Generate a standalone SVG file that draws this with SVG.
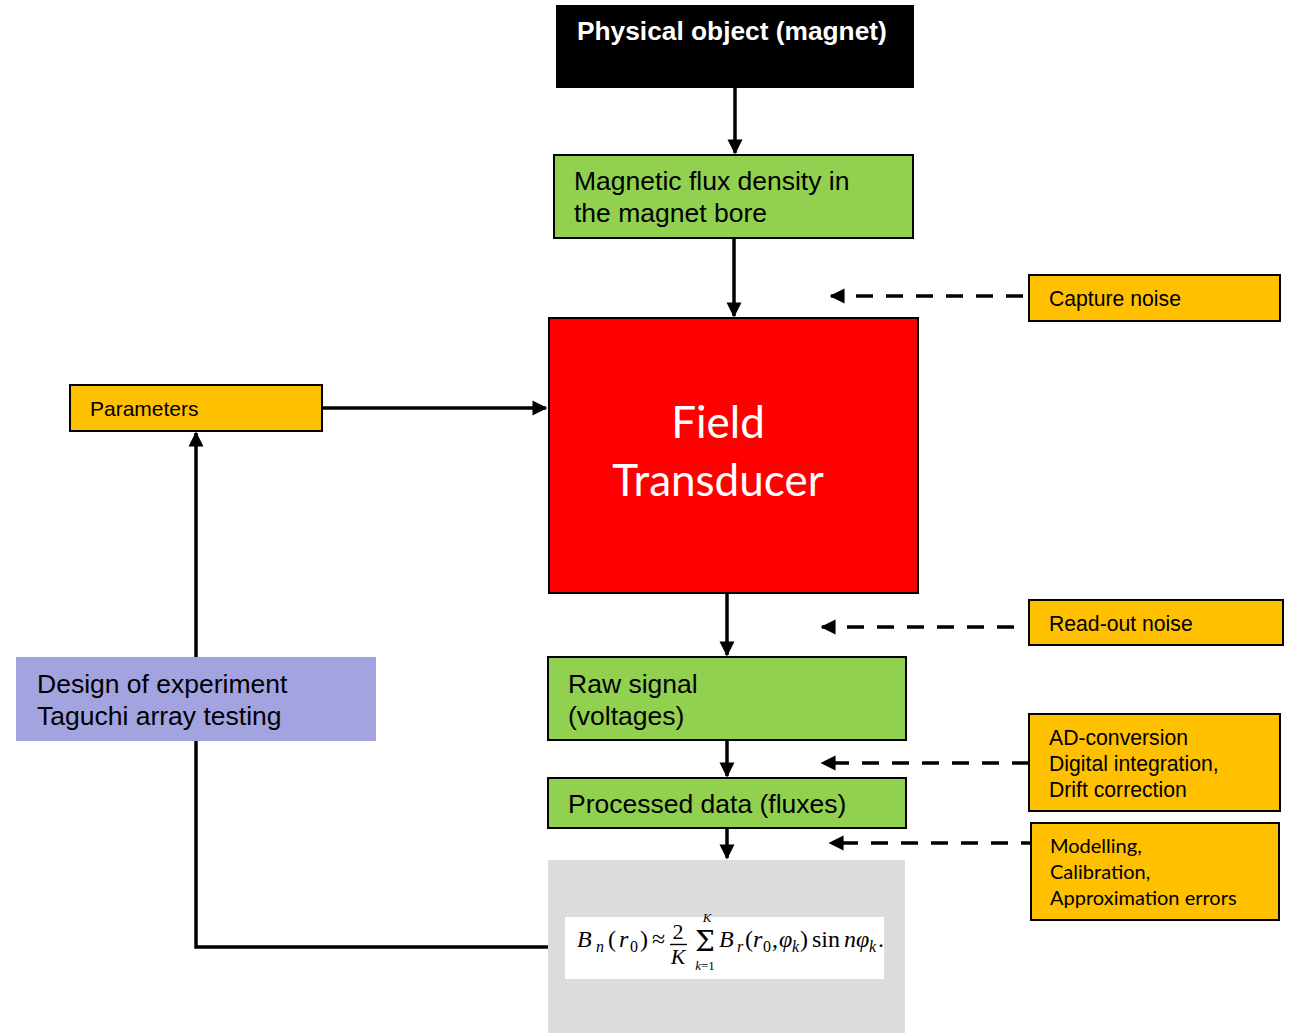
<svg xmlns="http://www.w3.org/2000/svg" width="1294" height="1033" viewBox="0 0 1294 1033">
  <style>
    .box { stroke: #000; stroke-width: 2; }
    .green { fill: #92D050; }
    .orange { fill: #FFC000; }
    .lbl { font-family: "Liberation Sans", Arial, sans-serif; fill: #000; }
    .big { font-size: 26.5px; }
    .small { font-size: 21.2px; }
    .cal { font-family: Lato, "Open Sans", sans-serif; fill: #000; }
    .wire { fill: none; stroke: #000; stroke-width: 3.5; }
    .dash { fill: none; stroke: #000; stroke-width: 3.5; stroke-dasharray: 17 13; }
    .math { font-family: "Liberation Serif", "Times New Roman", serif; fill: #000; }
    .it { font-style: italic; }
    .sub { font-size: 16px; }
  </style>
  <defs>
    <marker id="arrow" viewBox="0 0 10 10" refX="9" refY="5" markerWidth="4.3" markerHeight="4.3" orient="auto" markerUnits="strokeWidth">
      <path d="M0,0 L10,5 L0,10 z" fill="#000"/>
    </marker>
  </defs>

  <rect width="1294" height="1033" fill="#fff"/>

  <!-- connectors -->
  <g id="connectors">
    <line class="wire" x1="735" y1="88" x2="735" y2="153" marker-end="url(#arrow)"/>
    <line class="wire" x1="734" y1="238" x2="734" y2="316" marker-end="url(#arrow)"/>
    <line class="wire" x1="322" y1="408" x2="546" y2="408" marker-end="url(#arrow)"/>
    <polyline class="wire" points="548,947 196,947 196,433" marker-end="url(#arrow)"/>
    <line class="wire" x1="727" y1="593" x2="727" y2="655" marker-end="url(#arrow)"/>
    <line class="wire" x1="727" y1="740" x2="727" y2="776" marker-end="url(#arrow)"/>
    <line class="wire" x1="727" y1="828" x2="727" y2="858" marker-end="url(#arrow)"/>
    <line class="dash" x1="1023" y1="296" x2="831" y2="296" marker-end="url(#arrow)"/>
    <line class="dash" x1="1014" y1="627" x2="822" y2="627" marker-end="url(#arrow)"/>
    <line class="dash" x1="1029" y1="763" x2="822" y2="763" marker-end="url(#arrow)"/>
    <line class="dash" x1="1038" y1="843" x2="830" y2="843" marker-end="url(#arrow)"/>
  </g>

  <!-- source -->
  <g id="physical-object">
    <rect x="556" y="5" width="358" height="83" fill="#000"/>
    <text x="577" y="40" class="lbl" font-size="26.3" font-weight="bold" style="fill:#fff">Physical object (magnet)</text>
  </g>

  <g id="flux-density">
    <rect class="box green" x="554" y="155" width="359" height="83"/>
    <text class="lbl big" x="574" y="190">Magnetic flux density in</text>
    <text class="lbl big" x="574" y="222">the magnet bore</text>
  </g>

  <g id="field-transducer">
    <rect class="box" x="549" y="318" width="369" height="275" fill="#FF0000"/>
    <text class="cal" x="718" y="438" font-size="44" text-anchor="middle" style="fill:#fff">Field</text>
    <text class="cal" x="718" y="496" font-size="44" text-anchor="middle" style="fill:#fff">Transducer</text>
  </g>

  <g id="capture-noise">
    <rect class="box orange" x="1029" y="275" width="251" height="46"/>
    <text class="lbl small" x="1049" y="306">Capture noise</text>
  </g>

  <g id="parameters">
    <rect class="box orange" x="70" y="385" width="252" height="46"/>
    <text class="lbl" font-size="21" x="90" y="416">Parameters</text>
  </g>

  <g id="design-of-experiment">
    <rect x="16" y="657" width="360" height="84" fill="#A3A3DF"/>
    <text class="lbl big" x="37" y="693">Design of experiment</text>
    <text class="lbl big" x="37" y="725">Taguchi array testing</text>
  </g>

  <g id="readout-noise">
    <rect class="box orange" x="1029" y="600" width="254" height="45"/>
    <text class="lbl small" x="1049" y="631">Read-out noise</text>
  </g>

  <g id="raw-signal">
    <rect class="box green" x="548" y="657" width="358" height="83"/>
    <text class="lbl big" x="568" y="693">Raw signal</text>
    <text class="lbl big" x="568" y="725">(voltages)</text>
  </g>

  <g id="ad-conversion">
    <rect class="box orange" x="1029" y="714" width="251" height="97"/>
    <text class="lbl small" x="1049" y="745">AD-conversion</text>
    <text class="lbl small" x="1049" y="771">Digital integration,</text>
    <text class="lbl small" x="1049" y="797">Drift correction</text>
  </g>

  <g id="processed-data">
    <rect class="box green" x="548" y="778" width="358" height="50"/>
    <text class="lbl big" x="568" y="813">Processed data (fluxes)</text>
  </g>

  <g id="model-errors">
    <rect class="box orange" x="1031" y="823" width="248" height="97"/>
    <text class="cal" font-size="20" x="1050" y="853">Modelling,</text>
    <text class="cal" font-size="20" x="1050" y="879">Calibration,</text>
    <text class="cal" font-size="20" x="1050" y="905">Approximation errors</text>
  </g>

  <!-- harmonic coefficient from K point measurements -->
  <g id="multipole-formula">
    <rect x="548" y="860" width="357" height="173" fill="#DCDCDC"/>
    <rect x="565" y="917" width="319" height="62" fill="#fff"/>
    <g class="math" font-size="24">
      <text y="947"><tspan class="it" x="577">B</tspan><tspan class="it sub" x="596" y="952">n</tspan><tspan x="608" y="947">(</tspan><tspan class="it" x="619">r</tspan><tspan class="sub" x="630" y="952">0</tspan><tspan x="640" y="947">)</tspan><tspan x="652">≈</tspan></text>
      <text x="678" y="939" font-size="22" text-anchor="middle">2</text>
      <line x1="670" y1="944.5" x2="687" y2="944.5" stroke="#000" stroke-width="1.4"/>
      <text x="678" y="964" font-size="22" text-anchor="middle" class="it">K</text>
      <!-- summation sign with its limits -->
      <text font-size="13"><tspan x="705" y="951" font-size="28" font-family="DejaVu Serif, serif" text-anchor="middle">Σ</tspan><tspan class="it" x="707" y="922" text-anchor="middle">K</tspan><tspan x="705" y="970" text-anchor="middle"><tspan class="it">k</tspan>=1</tspan></text>
      <text y="947"><tspan class="it" x="719">B</tspan><tspan class="it sub" x="737" y="952">r</tspan><tspan x="745" y="947">(</tspan><tspan class="it" x="753">r</tspan><tspan class="sub" x="763" y="952">0</tspan><tspan x="772" y="947">,</tspan><tspan class="it" x="779">φ</tspan><tspan class="it sub" x="792" y="952">k</tspan><tspan x="800" y="947">)</tspan><tspan x="812">sin</tspan><tspan class="it" x="844">n</tspan><tspan class="it" x="856">φ</tspan><tspan class="it sub" x="869" y="952">k</tspan><tspan x="878" y="947">.</tspan></text>
    </g>
  </g>
</svg>
